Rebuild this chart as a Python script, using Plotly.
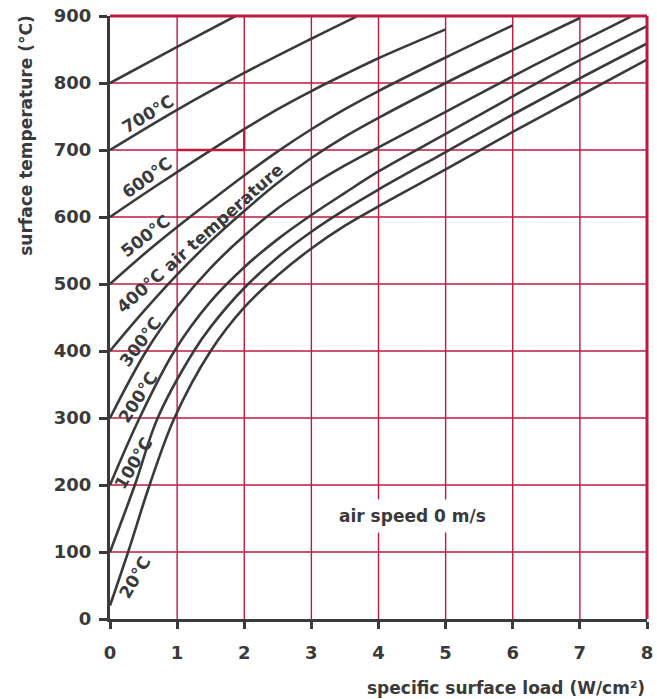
import plotly.graph_objects as go

# ---- data ----
air_temps = ["800", "700", "600", "500", "400", "300", "200", "100", "20"]

load_800 = [0, 1, 1.87]
temp_800 = [800, 854, 900]
load_700 = [0, 1, 2, 3, 3.67]
temp_700 = [700, 760, 815, 866, 899]
load_600 = [0, 0.5, 1, 2, 2.5, 3, 3.5, 4, 5]
temp_600 = [600, 634, 667, 731, 761, 788, 813, 837, 880]
load_500 = [0, 0.5, 1, 1.5, 2, 2.5, 3, 3.5, 4, 5, 6]
temp_500 = [500, 544, 585, 624, 662, 698, 731, 761, 788, 838, 886]
load_400 = [0, 0.5, 1, 1.5, 2, 2.5, 3, 3.5, 4, 5, 6, 7]
temp_400 = [400, 459, 514, 564, 609, 651, 688, 720, 748, 800, 849, 897]
load_300 = [0, 0.54, 1, 1.5, 2, 2.5, 3, 3.5, 4, 5, 6, 7, 7.76]
temp_300 = [300, 400, 466, 524, 572, 613, 647, 677, 704, 757, 810, 861, 899]
load_200 = [0, 0.44, 0.96, 1.5, 2, 2.5, 3, 3.5, 4, 5, 6, 7, 8]
temp_200 = [200, 300, 400, 474, 525, 567, 603, 636, 668, 724, 780, 834, 885]
load_100 = [0, 0.37, 0.71, 1.25, 1.5, 2, 2.5, 3, 3.5, 4, 5, 6, 7, 8]
temp_100 = [100, 200, 300, 400, 436, 494, 540, 578, 611, 641, 697, 753, 807, 859]
load_20 = [0, 0.27, 0.59, 0.96, 1.5, 2, 2.5, 3, 3.5, 4, 5, 6, 7, 8]
temp_20 = [20, 100, 200, 300, 400, 465, 513, 553, 587, 616, 671, 727, 781, 835]

# example reading (highlighted)
example_load = [1, 2, 2]
example_temp = [700, 700, 731]

# curve labels: text, load, temp, angle
label_texts = ["700°C", "600°C", "500°C", "400°C air temperature", "300°C", "200°C", "100°C", "20°C"]
label_load = [0.57, 0.545, 0.525, 1.34, 0.45, 0.41, 0.35, 0.37]
label_temp = [753, 658, 572, 569, 414, 330, 233, 63]
label_angle = [-31, -36, -38, -41.5, -53, -57, -59, -60]

x_ticks = [0, 1, 2, 3, 4, 5, 6, 7, 8]
y_ticks = [0, 100, 200, 300, 400, 500, 600, 700, 800, 900]

RED = "#c0193f"
DARK = "#3a3a3a"
FONT = "DejaVu Sans"

curves = [
    (load_800, temp_800), (load_700, temp_700), (load_600, temp_600),
    (load_500, temp_500), (load_400, temp_400), (load_300, temp_300),
    (load_200, temp_200), (load_100, temp_100), (load_20, temp_20),
]

fig = go.Figure()
for name, (xs, ys) in zip(air_temps, curves):
    fig.add_trace(go.Scatter(
        x=xs, y=ys, mode="lines", name=name,
        line=dict(color=DARK, width=2.6, shape="spline", smoothing=1.0),
        hoverinfo="skip", showlegend=False,
    ))

fig.add_trace(go.Scatter(
    x=example_load, y=example_temp, mode="lines",
    line=dict(color=RED, width=2.4), hoverinfo="skip", showlegend=False,
))

for t, lx, ly, ang in zip(label_texts, label_load, label_temp, label_angle):
    fig.add_annotation(
        x=lx, y=ly, xref="x", yref="y", text=t, showarrow=False,
        textangle=ang, xanchor="center", yanchor="middle",
        font=dict(family=FONT, size=17, color=DARK, weight="bold"),
    )

fig.add_annotation(
    x=4.5, y=154, xref="x", yref="y", text="air speed 0 m/s", showarrow=False,
    bgcolor="white", borderpad=6,
    font=dict(family=FONT, size=17, color=DARK, weight="bold"),
)

# axis titles
fig.add_annotation(
    x=1.0, y=-0.114, xref="paper", yref="paper", text="specific surface load (W/cm²)",
    showarrow=False, xanchor="right", yanchor="middle",
    font=dict(family=FONT, size=17, color=DARK, weight="bold"),
)
fig.add_annotation(
    x=-0.1565, y=1.006, xref="paper", yref="paper", text="surface temperature (°C)",
    showarrow=False, xanchor="center", yanchor="top", textangle=-90,
    font=dict(family=FONT, size=17, color=DARK, weight="bold"),
)

# grid lines (red) at the tick positions
for xv in x_ticks[1:]:
    fig.add_shape(type="line", xref="x", yref="y", x0=xv, x1=xv, y0=0, y1=900,
                  line=dict(color=RED, width=1.4), layer="below")
for yv in y_ticks[1:]:
    fig.add_shape(type="line", xref="x", yref="y", x0=0, x1=8, y0=yv, y1=yv,
                  line=dict(color=RED, width=1.4), layer="below")

# red frame on top and right
fig.add_shape(type="line", xref="paper", yref="paper", x0=0, x1=1, y0=1, y1=1,
              line=dict(color=RED, width=3))
fig.add_shape(type="line", xref="paper", yref="paper", x0=1, x1=1, y0=0, y1=1,
              line=dict(color=RED, width=3))

fig.update_xaxes(
    range=[0, 8], tickvals=x_ticks, ticktext=[str(v) for v in x_ticks],
    showgrid=False,
    showline=True, linecolor=DARK, linewidth=3,
    ticks="outside", ticklen=7, tickwidth=2.5, tickcolor=DARK,
    tickfont=dict(family=FONT, size=18, color=DARK, weight="bold"),
    zeroline=False, ticklabelstandoff=8, ticklabeloverflow="allow",
)
fig.update_yaxes(
    range=[0, 900], tickvals=y_ticks, ticktext=[str(v) for v in y_ticks],
    showgrid=False,
    showline=True, linecolor=DARK, linewidth=3,
    ticks="outside", ticklen=8, tickwidth=2.5, tickcolor=DARK,
    tickfont=dict(family=FONT, size=18, color=DARK, weight="bold"),
    zeroline=False, ticklabelstandoff=4, ticklabeloverflow="allow",
)

fig.update_layout(
    width=657, height=699,
    margin=dict(l=110, r=4, t=16, b=80),
    plot_bgcolor="white", paper_bgcolor="white",
    showlegend=False,
)

fig.write_html(
    "out.html",
    config={"displayModeBar": False},
    post_script="document.body.style.margin='0px';document.body.style.overflow='hidden';",
)
